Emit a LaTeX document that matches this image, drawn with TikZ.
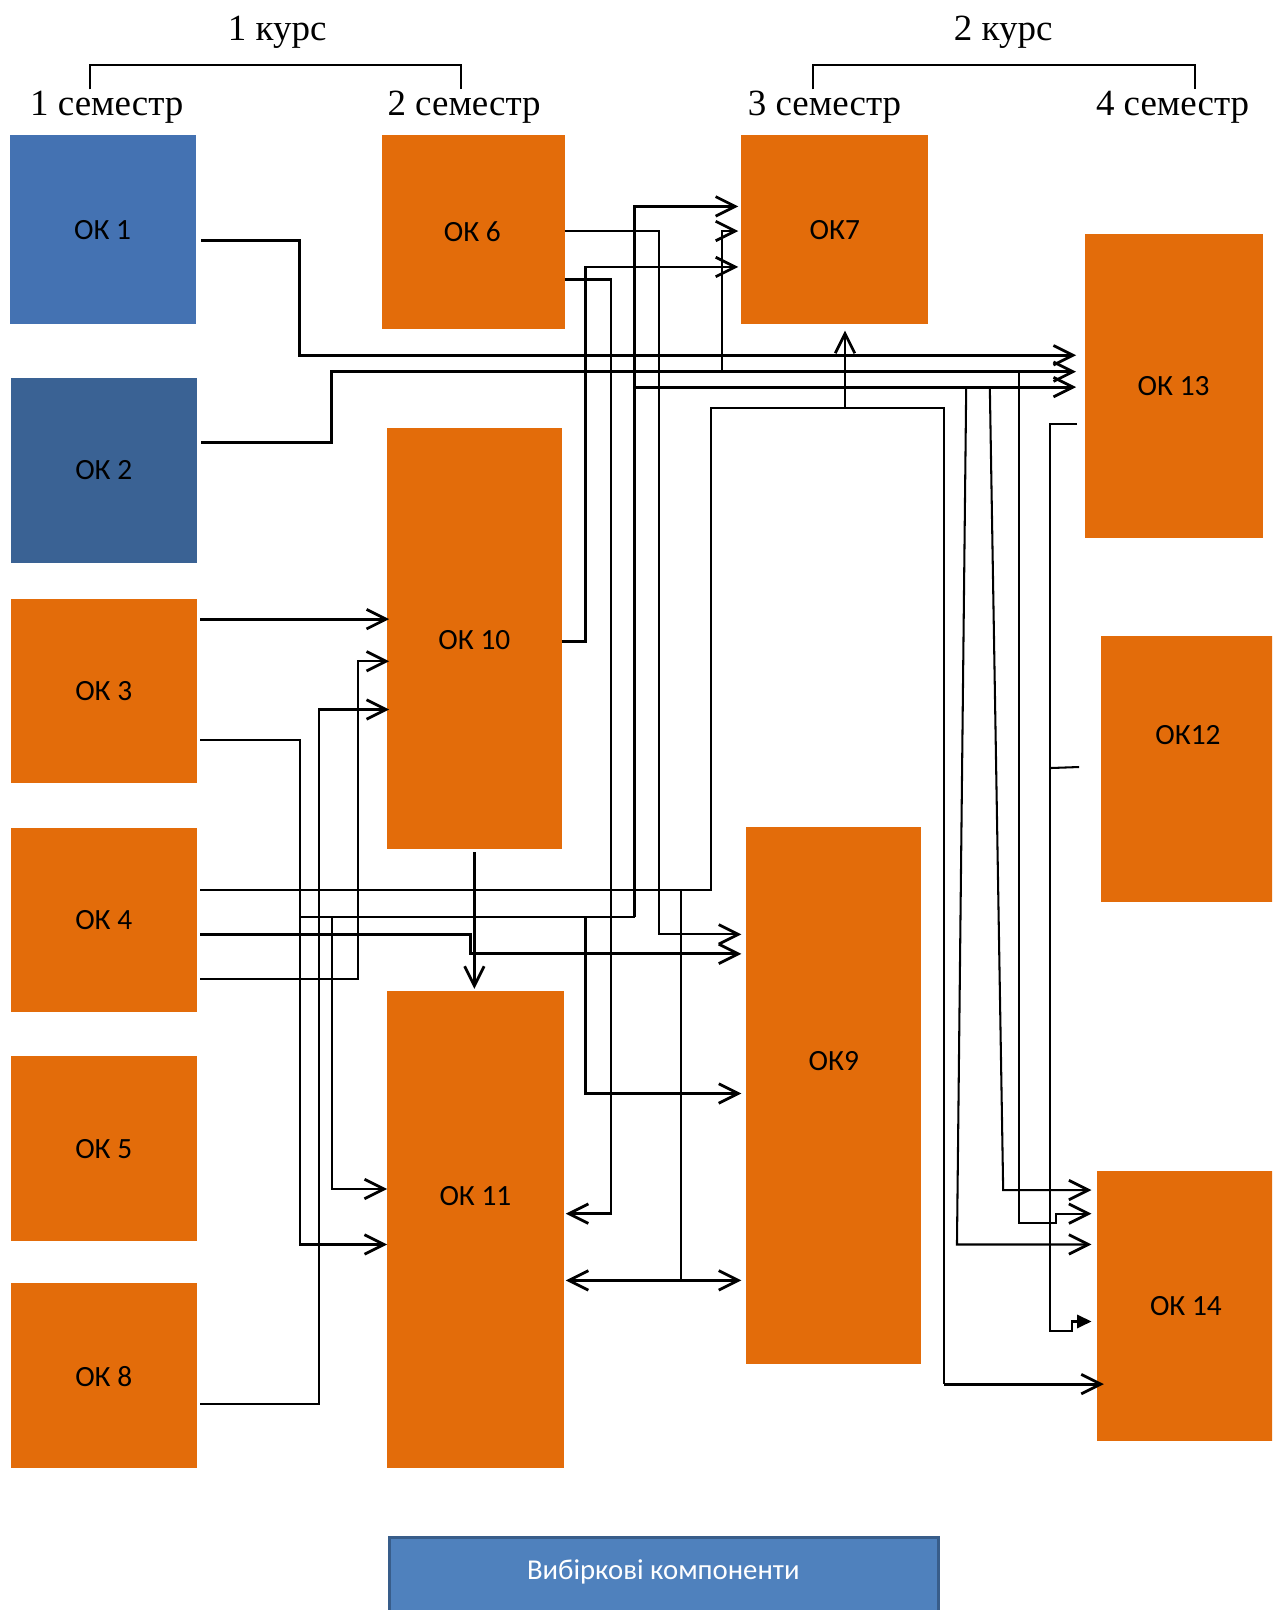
\documentclass[tikz,border=0pt]{standalone}
\usepackage{fontspec}
\setmainfont{Liberation Serif}
\newfontfamily\lblfont{Carlito}
\usetikzlibrary{arrows.meta,fit,calc}
\definecolor{okorange}{RGB}{227,108,10}
\definecolor{okblueA}{RGB}{68,114,178}
\definecolor{okblueB}{RGB}{58,98,148}
\definecolor{selfill}{RGB}{79,129,189}
\definecolor{seldraw}{RGB}{56,93,138}
\begin{document}
\begin{tikzpicture}[x=0.5pt,y=-0.5pt,
  box/.style={inner sep=0pt,outer sep=0pt,draw=none,fill=okorange},
  lbl/.style={font=\lblfont\fontsize{14.3}{16}\selectfont,inner sep=0pt},
  hdr/.style={font=\fontsize{18}{20}\selectfont,inner sep=0pt},
  ln/.style={line width=1pt},
  thk/.style={line width=1.4pt},
  bar/.style={-{Straight Barb[length=9.5pt,width=9.5pt,line width=1.35pt]}},
  dbar/.style={{Straight Barb[length=9.5pt,width=9.5pt,line width=1.35pt]}-{Straight Barb[length=9.5pt,width=9.5pt,line width=1.35pt]}},
  tri/.style={-{Triangle[length=7pt,width=6.5pt]}}
]
\clip (0,0) rectangle (1239,1568);

% header
\node[hdr] (k1) at (270,31) {1 курс};
\node[hdr] (k2) at (977,31) {2 курс};
\node[hdr] (s1) at (104,104) {1 семестр};
\node[hdr] (s2) at (452,104) {2 семестр};
\node[hdr] (s3) at (803,104) {3 семестр};
\node[hdr] (s4) at (1142,104) {4 семестр};
\coordinate (b1a) at (88,87);
\coordinate (b1b) at (449,87);
\coordinate (b2a) at (792,87);
\coordinate (b2b) at (1164,87);
\draw[ln] (b1a) -- (b1a |- 0,63) -- (b1b |- 0,63) -- (b1b);
\draw[ln] (b2a) -- (b2a |- 0,63) -- (b2b |- 0,63) -- (b2b);

% boxes
\node[box,fill=okblueA,fit={(10,131)(191,316)}] (ok1) {};
\node[box,fill=okblueB,fit={(11,368)(192,548)}] (ok2) {};
\node[box,fit={(11,583)(192,763)}] (ok3) {};
\node[box,fit={(11,806)(192,986)}] (ok4) {};
\node[box,fit={(11,1028)(192,1209)}] (ok5) {};
\node[box,fit={(11,1250)(192,1430)}] (ok8) {};
\node[box,fit={(372,131)(550,320)}] (ok6) {};
\node[box,fit={(377,417)(547,827)}] (ok10) {};
\node[box,fit={(377,965)(549,1430)}] (ok11) {};
\node[box,fit={(722,131)(904,316)}] (ok7) {};
\node[box,fit={(727,805)(897,1328)}] (ok9) {};
\node[box,fit={(1057,228)(1230,524)}] (ok13) {};
\node[box,fit={(1072,619)(1245,878)}] (ok12) {};
\node[box,fit={(1068,1140)(1245,1403)}] (ok14) {};
\node[fit={(379,1497)(914,1600)},inner sep=0pt,fill=selfill,draw=seldraw,line width=1.5pt] (sel) {};

% labels
\node[lbl] (t1) at (100,224) {ОК 1};
\node[lbl] (t2) at (101,458) {ОК 2};
\node[lbl] (t3) at (101,673) {ОК 3};
\node[lbl] (t4) at (101,896) {ОК 4};
\node[lbl] (t5) at (101,1119) {ОК 5};
\node[lbl] (t8) at (101,1341) {ОК 8};
\node[lbl] (t6) at (460,226) {ОК 6};
\node[lbl] (t10) at (462,623) {ОК 10};
\node[lbl] (t11) at (463,1165) {ОК 11};
\node[lbl] (t7) at (813,224) {ОК7};
\node[lbl] (t9) at (812,1033) {ОК9};
\node[lbl] (t13) at (1143,376) {ОК 13};
\node[lbl] (t12) at (1157,716) {ОК12};
\node[lbl] (t14) at (1155,1272) {ОК 14};
\node[font=\lblfont\fontsize{14}{16}\selectfont,text=white,inner sep=0pt] (selt) at (646,1531) {Вибіркові компоненти};

% entry / exit reference points
\coordinate (o1) at ($(ok1.east)+(5,0)$);
\coordinate (o2) at ($(ok2.east)+(4,0)$);
\coordinate (o3) at ($(ok3.east)+(3,0)$);
\coordinate (o4) at ($(ok4.east)+(3,0)$);
\coordinate (o8) at ($(ok8.east)+(3,0)$);
\coordinate (in13) at ($(ok13.west)+(-9,0)$);
\coordinate (out13) at ($(ok13.west)+(-8,0)$);
\coordinate (out12) at ($(ok12.west)+(-21,0)$);
\coordinate (in7) at ($(ok7.west)+(-3,0)$);
\coordinate (in9) at ($(ok9.west)+(-5,0)$);
\coordinate (in14) at ($(ok14.west)+(-5,0)$);
\coordinate (in10) at ($(ok10.west)+(2,0)$);

% OK1, OK2 -> OK13
\draw[thk,bar] (o1 |- 0,234) -- (292,234) -- (292,346) -- (in13 |- 0,346);
\draw[thk,bar] (o2 |- 0,431) -- (323,431) -- (323,362) -- (in13 |- 0,362);
\coordinate (j2a) at (703,362);
\coordinate (j2b) at (992,362);
\draw[ln,bar] (j2a) -- (j2a |- 0,225) -- (in7 |- 0,225);
\draw[ln,bar] (j2b) -- (992,1191) -- (1028,1191) -- (1028,1182) -- (in14 |- 0,1182);

% OK3
\draw[thk,bar] (o3 |- 0,603) -- (in10 |- 0,603);
\draw[ln,bar] (o3 |- 0,721) -- (292,721) -- (292,1212) -- (ok11.west |- 0,1212);
\coordinate (j3) at (292,893);
\draw[ln] (j3) -- (618,893);
\draw[thk,bar] (618,893) -- (618,201) -- (in7 |- 0,201);
\draw[thk,bar] (618,377) -- (in13 |- 0,377);
\draw[ln,bar] (323,893) -- (323,1158) -- (ok11.west |- 0,1158);
\draw[thk,bar] (570,893) -- (570,1065) -- (in9 |- 0,1065);
\draw[ln,bar] (941,377) -- (932,1212) -- (in14 |- 0,1212);
\draw[ln,bar] (964,377) -- (977,1159) -- (in14 |- 0,1159);

% OK4
\coordinate (j4b) at (823,397);
\draw[ln] (o4 |- 0,867) -- (692,867) -- (692,397) -- (919,397) -- (919,1348);
\draw[thk,bar] (919,1348) -- ($(ok14.west |- 0,1348)+(7,0)$);
\draw[thk,bar] (j4b) -- ($(j4b |- ok7.south)+(0,6)$);
\draw[ln] (663,867) -- (663,1247);
\draw[thk,dbar] ($(ok11.east |- 0,1247)+(2,0)$) -- (in9 |- 0,1247);
\draw[thk,bar] (o4 |- 0,910) -- (458,910) -- (458,929) -- (in9 |- 0,929);
\draw[ln,bar] (o4 |- 0,953) -- (349,953) -- (349,644) -- (in10 |- 0,644);

% OK8
\draw[ln,bar] (o8 |- 0,1367) -- (311,1367) -- (311,691) -- (in10 |- 0,691);

% OK6
\draw[ln,bar] (ok6.east |- 0,225) -- (642,225) -- (642,910) -- (in9 |- 0,910);
\draw[thk,bar] (ok6.east |- 0,272) -- (595,272) -- (595,1182) -- ($(ok11.east |- 0,1182)+(2,0)$);

% OK10
\draw[thk,bar] (ok10.east |- 0,625) -- (570,625) -- (570,260) -- (in7 |- 0,260);
\draw[thk,bar] ($(ok10.south)+(0,3)$) -- ($(ok10.south |- ok11.north)+(0,-2)$);

% OK13, OK12 -> OK14
\draw[ln,tri] (out13 |- 0,413) -- (1023,413) -- (1023,1296) -- (1044,1296) -- (1044,1287) -- (in14 |- 0,1287);
\draw[ln] (out12 |- 0,747) -- (1023,748);
\end{tikzpicture}
\end{document}
